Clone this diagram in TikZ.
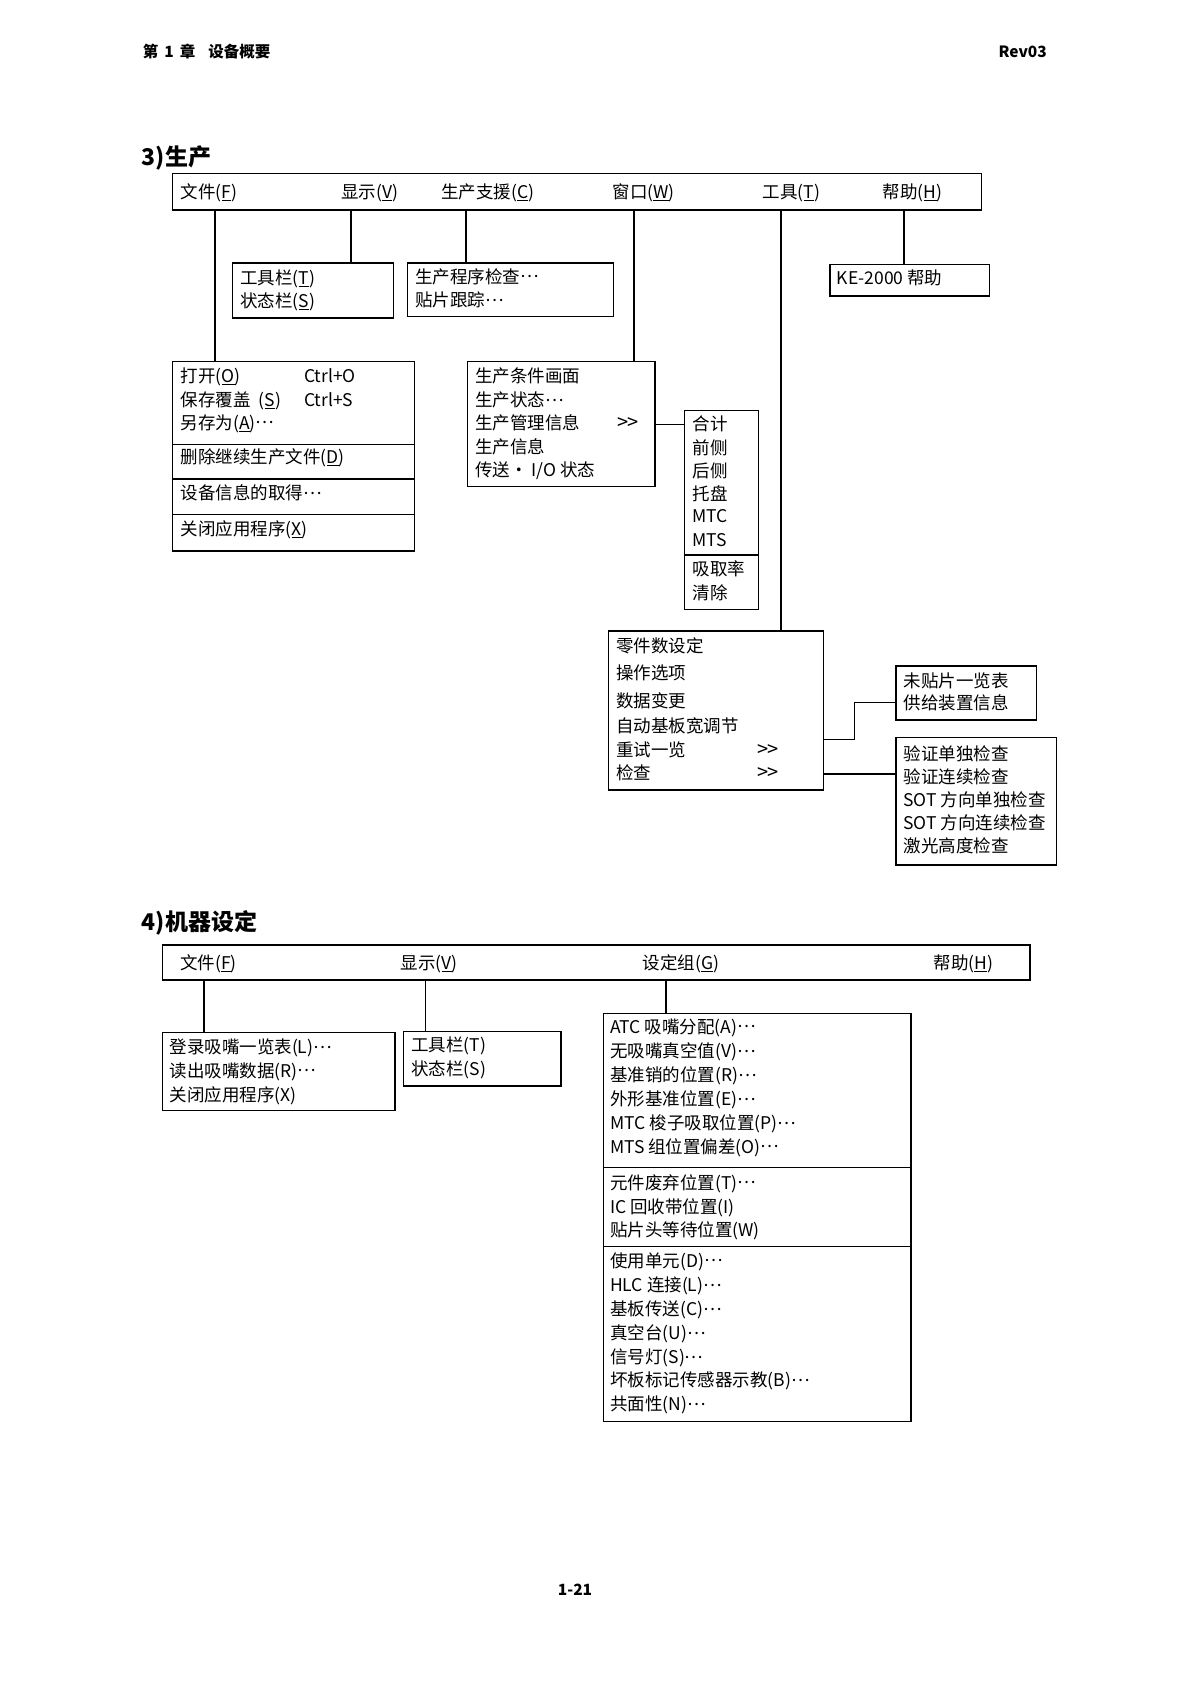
\documentclass[tikz,border=0pt]{standalone}
\usepackage{fontspec}
\newfontfamily\cjk{Noto Sans CJK SC}
\usetikzlibrary{fit}
\newcommand\ulk[1]{\underline{#1}}
\newcommand\mdt{\raisebox{5.5pt}{…}}
\newcommand\subarr{{\fontsize{20}{20}\selectfont >\kern-1pt>}}
\tikzset{
  box/.style={draw=black, line width=1.3pt, inner sep=0pt},
  txt/.style={anchor=west, inner sep=0pt, text height=14.5pt, text depth=1.3pt,
    font=\cjk\fontsize{17.5}{20}\selectfont, text=black},
  link/.style={draw=black, line width=1.3pt},
  sepline/.style={draw=black, line width=1.3pt},
  head/.style={inner sep=0pt, font=\cjk\bfseries\fontsize{15.5}{18}\selectfont},
  sect/.style={anchor=west, inner sep=0pt, font=\cjk\bfseries\fontsize{23}{26}\selectfont},
}
\begin{document}
\begin{tikzpicture}[x=1pt,y=-1pt]
\path[use as bounding box] (0,0) rectangle (1188,1681);
\fill[white] (0,0) rectangle (1188,1681);

% ---------- page header / footer ----------
\node[head, anchor=west] (hdr) at (142.7,52) {第\hspace{6pt}1\hspace{6pt}章\hspace{13pt}设备概要};
\node[head, anchor=east] (rev) at (1047,52) {Rev03};
\node[head] (pg) at (575,1590) {1-21};

% ================= 3) 生产 =================
\node[sect] (s3) at (141.7,157.5) {3)生产};

\node[box, fit={(172.7,173.3) (981.7,210)}] (bar3) {};
\node[txt] (m31) at (180.7,191.7) {文件(\ulk{F})};
\node[txt] (m32) at (341,191.7) {显示(\ulk{V})};
\node[txt] (m33) at (441,191.7) {生产支援(\ulk{C})};
\node[txt] (m34) at (612.3,191.7) {窗口(\ulk{W})};
\node[txt] (m35) at (762.7,191.7) {工具(\ulk{T})};
\node[txt] (m36) at (882.7,191.7) {帮助(\ulk{H})};

% boxes
\node[box, fit={(232.7,263) (393.3,318)}] (view3) {};
\node[box, fit={(407.7,263) (613.3,316.7)}] (supp3) {};
\node[box, fit={(830,264.3) (989.3,296)}] (help3) {};
\node[box, fit={(172.7,361.7) (414.3,551)}] (file3) {};
\node[box, fit={(467.3,361.7) (655,486.5)}] (win3) {};
\node[box, fit={(684.3,410.7) (758.3,609.3)}] (sub3) {};
\node[box, fit={(608.3,631) (823.3,790)}] (tool3) {};
\node[box, fit={(896,666) (1036.7,720)}] (unpl3) {};
\node[box, fit={(896,737.3) (1056.7,865)}] (insp3) {};

% separators
\coordinate (sa) at (0,444.3);
\coordinate (sb) at (0,479);
\coordinate (sc) at (0,514.3);
\coordinate (sd) at (0,555);
\draw[sepline] (file3.west |- sa) -- (file3.east |- sa);
\draw[sepline] (file3.west |- sb) -- (file3.east |- sb);
\draw[sepline] (file3.west |- sc) -- (file3.east |- sc);
\draw[sepline] (sub3.west |- sd) -- (sub3.east |- sd);

% connectors
\coordinate (x31) at (215,0);
\coordinate (x32) at (351,0);
\coordinate (x33) at (466,0);
\coordinate (x34) at (634,0);
\coordinate (x35) at (781,0);
\coordinate (x36) at (904,0);
\draw[link] (bar3.south -| x31) -- (file3.north -| x31);
\draw[link] (bar3.south -| x32) -- (view3.north -| x32);
\draw[link] (bar3.south -| x33) -- (supp3.north -| x33);
\draw[link] (bar3.south -| x34) -- (win3.north -| x34);
\draw[link] (bar3.south -| x35) -- (tool3.north -| x35);
\draw[link] (bar3.south -| x36) -- (help3.north -| x36);
\coordinate (r4) at (0,424.3);
\draw[link] (win3.east |- r4) -- (sub3.west |- r4);
\coordinate (r1) at (0,739.3);
\coordinate (bend) at (854.3,702.7);
\draw[link] (tool3.east |- r1) -| (bend) -- (unpl3.west |- bend);
\coordinate (r3) at (0,774);
\draw[link] (tool3.east |- r3) -- (insp3.west |- r3);

% texts of section 3 boxes
\node[txt] (v31) at (240,277.7) {工具栏(\ulk{T})};
\node[txt] (v32) at (240,301) {状态栏(\ulk{S})};
\node[txt] (p31) at (415,276.7) {生产程序检查\mdt};
\node[txt] (p32) at (415,300) {贴片跟踪\mdt};
\node[txt] (k31) at (836.7,278.3) {KE-2000 帮助};

\node[txt] (f31) at (180.7,376) {打开(\ulk{O})};
\node[txt] (f31b) at (304,376) {Ctrl+O};
\node[txt] (f32) at (180.7,400) {保存覆盖\ \ (\ulk{S})};
\node[txt] (f32b) at (304,400) {Ctrl+S};
\node[txt] (f33) at (180.7,422.7) {另存为(\ulk{A})\mdt};
\node[txt] (f34) at (180.7,456.7) {删除继续生产文件(\ulk{D})};
\node[txt] (f35) at (180.7,493.3) {设备信息的取得\mdt};
\node[txt] (f36) at (180.7,529.3) {关闭应用程序(\ulk{X})};

\node[txt] (w31) at (475,376) {生产条件画面};
\node[txt] (w32) at (475,400) {生产状态\mdt};
\node[txt] (w33) at (475,423.3) {生产管理信息};
\node[txt] (w33b) at (617,423.3) {\subarr};
\node[txt] (w34) at (475,446.7) {生产信息};
\node[txt] (w35) at (475,470) {传送•\ I/O 状态};

\node[txt] (u31) at (692.3,424.3) {合计};
\node[txt] (u32) at (692.3,448.3) {前侧};
\node[txt] (u33) at (692.3,471) {后侧};
\node[txt] (u34) at (692.3,494.3) {托盘};
\node[txt] (u35) at (692.3,516) {MTC};
\node[txt] (u36) at (692.3,540) {MTS};
\node[txt] (u37) at (692.3,569.3) {吸取率};
\node[txt] (u38) at (692.3,592.7) {清除};

\node[txt] (t31) at (616,646) {零件数设定};
\node[txt] (t32) at (616,673.3) {操作选项};
\node[txt] (t33) at (616,701) {数据变更};
\node[txt] (t34) at (616,726) {自动基板宽调节};
\node[txt] (t35) at (616,750) {重试一览};
\node[txt] (t35b) at (757,750) {\subarr};
\node[txt] (t36) at (616,772.7) {检查};
\node[txt] (t36b) at (757,772.7) {\subarr};

\node[txt] (n31) at (903.3,681) {未贴片一览表};
\node[txt] (n32) at (903.3,703.3) {供给装置信息};

\node[txt] (i31) at (903.3,754) {验证单独检查};
\node[txt] (i32) at (903.3,776.7) {验证连续检查};
\node[txt] (i33) at (903.3,800) {SOT 方向单独检查};
\node[txt] (i34) at (903.3,822.7) {SOT 方向连续检查};
\node[txt] (i35) at (903.3,846) {激光高度检查};

% ================= 4) 机器设定 =================
\node[sect] (s4) at (141.7,923) {4)机器设定};

\node[box, fit={(162.3,945) (1030,980)}] (bar4) {};
\node[txt] (m41) at (180,962.7) {文件(\ulk{F})};
\node[txt] (m42) at (400.7,962.7) {显示(\ulk{V})};
\node[txt] (m43) at (642.7,962.7) {设定组(\ulk{G})};
\node[txt] (m44) at (933.3,962.7) {帮助(\ulk{H})};

\node[box, fit={(162.3,1032.7) (395,1110.7)}] (file4) {};
\node[box, fit={(403.3,1031.7) (561,1086)}] (view4) {};
\node[box, fit={(603.3,1013.3) (911,1421.7)}] (set4) {};

\coordinate (se) at (0,1167.7);
\coordinate (sf) at (0,1246.7);
\draw[sepline] (set4.west |- se) -- (set4.east |- se);
\draw[sepline] (set4.west |- sf) -- (set4.east |- sf);

\coordinate (x41) at (204,0);
\coordinate (x42) at (425.3,0);
\coordinate (x43) at (666,0);
\draw[link] (bar4.south -| x41) -- (file4.north -| x41);
\draw[link] (bar4.south -| x42) -- (view4.north -| x42);
\draw[link] (bar4.south -| x43) -- (set4.north -| x43);

\node[txt] (f41) at (169.3,1047.3) {登录吸嘴一览表(L)\mdt};
\node[txt] (f42) at (169.3,1070.7) {读出吸嘴数据(R)\mdt};
\node[txt] (f43) at (169.3,1095) {关闭应用程序(X)};

\node[txt] (v41) at (411,1045) {工具栏(T)};
\node[txt] (v42) at (411,1069.3) {状态栏(S)};

\node[txt] (g01) at (610,1026.7) {ATC 吸嘴分配(A)\mdt};
\node[txt] (g02) at (610,1051) {无吸嘴真空值(V)\mdt};
\node[txt] (g03) at (610,1075) {基准销的位置(R)\mdt};
\node[txt] (g04) at (610,1099) {外形基准位置(E)\mdt};
\node[txt] (g05) at (610,1123.3) {MTC 梭子吸取位置(P)\mdt};
\node[txt] (g06) at (610,1146.7) {MTS 组位置偏差(O)\mdt};
\node[txt] (g07) at (610,1182.7) {元件废弃位置(T)\mdt};
\node[txt] (g08) at (610,1206.7) {IC 回收带位置(I)};
\node[txt] (g09) at (610,1230) {贴片头等待位置(W)};
\node[txt] (g10) at (610,1260.7) {使用单元(D)\mdt};
\node[txt] (g11) at (610,1285) {HLC 连接(L)\mdt};
\node[txt] (g12) at (610,1309.3) {基板传送(C)\mdt};
\node[txt] (g13) at (610,1333.3) {真空台(U)\mdt};
\node[txt] (g14) at (610,1357.3) {信号灯(S)\mdt};
\node[txt] (g15) at (610,1380) {坏板标记传感器示教(B)\mdt};
\node[txt] (g16) at (610,1404) {共面性(N)\mdt};
\end{tikzpicture}
\end{document}
